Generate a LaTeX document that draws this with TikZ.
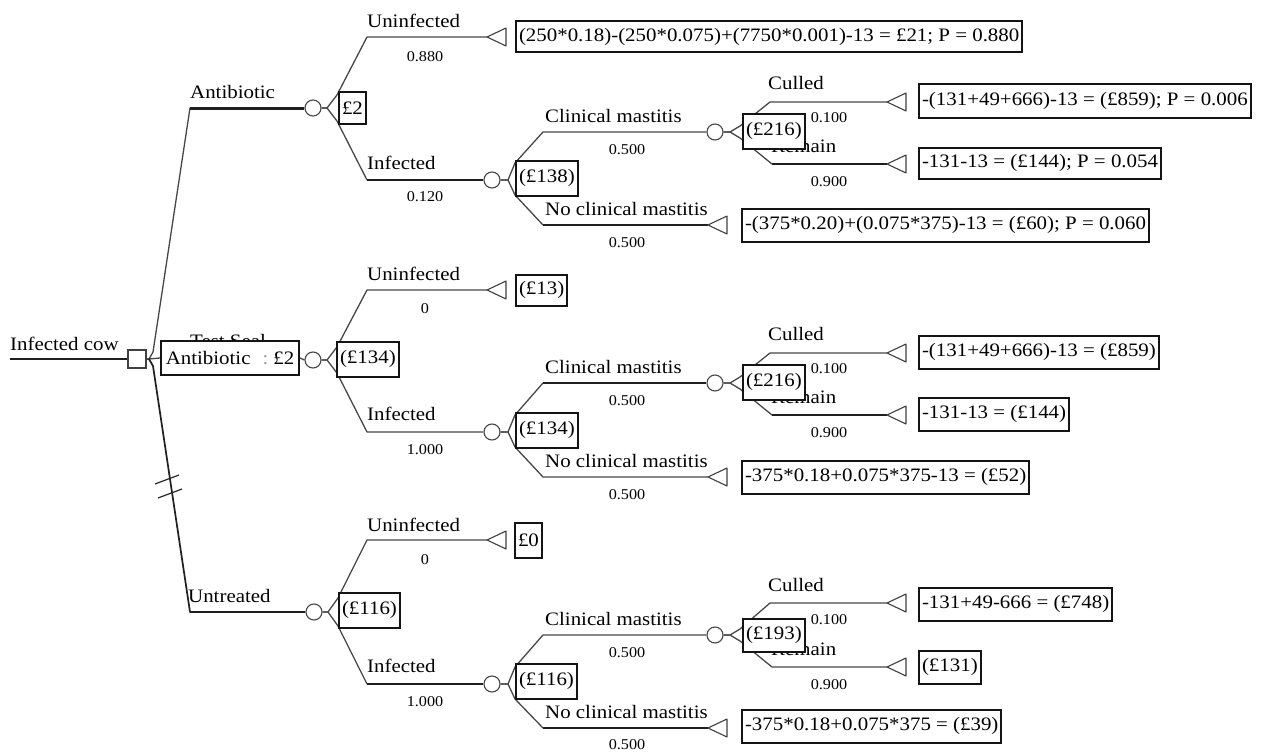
\documentclass[tikz,border=0pt]{standalone}
\usepackage{fontspec}
\setmainfont{Liberation Serif}[FakeStretch=1.1]
\newfontfamily\probserif{Liberation Serif}[FakeStretch=1.08]
\newcommand\lblfont{\fontsize{19}{21}\selectfont}
\newcommand\prbfont{\probserif\fontsize{15}{17}\selectfont}
\usetikzlibrary{backgrounds}
\tikzset{
  edge/.style={draw=black!72, line width=1.3pt, line join=round},
  hot/.style={draw=black!88, line width=2.4pt, line join=round},
  chance/.style={circle, draw=black!72, line width=1.1pt, minimum size=16pt, inner sep=0pt, fill=white},
  decision/.style={rectangle, draw=black!75, line width=1.1pt, minimum size=18pt, inner sep=0pt, fill=white},
  valbox/.style={rectangle, draw=black!92, line width=2pt, fill=white, inner xsep=3pt, inner ysep=0pt,
                 minimum height=33pt, anchor=west, font=\lblfont},
  lab/.style={anchor=base west, inner sep=0pt, font=\lblfont},
  prob/.style={inner sep=0pt, font=\prbfont},
  leaf/.pic={\draw[black!75, line width=1.1pt, fill=white, line join=round] (0,0) -- (19,-9) -- (19,9) -- cycle;}
}
\begin{document}
\begin{tikzpicture}[x=1pt,y=-1pt]
\useasboundingbox (0,0) rectangle (1264,752);

% ---------- root decision ----------
\node[lab] (root) at (10,350) {Infected cow};
\node[decision] (dec) at (137,359) {};
\coordinate (fan) at (149,359);

% ---------- branch: Antibiotic ----------
\node[chance] (cA) at (313,108) {};
\node[valbox, minimum height=32pt] (vA) at (338,108) {£2};
\coordinate (tA1) at (487,37);
\node[valbox, minimum height=31pt] (pA1) at (515,37) {(250*0.18)-(250*0.075)+(7750*0.001)-13 = £21; P = 0.880};
\node[chance] (cA2) at (492,180) {};
\node[valbox, minimum height=35pt] (vA2) at (515,178) {(£138)};
\node[chance] (cA3) at (715,132) {};
\node[valbox, minimum height=35pt] (vA3) at (742,131) {(£216)};
\coordinate (tA3) at (887,102);
\node[valbox] (pA3) at (918,101) {-(131+49+666)-13 = (£859); P = 0.006};
\coordinate (tA4) at (887,164);
\node[valbox, minimum height=31pt] (pA4) at (918,163) {-131-13 = (£144); P = 0.054};
\coordinate (tA2) at (708,225);
\node[valbox] (pA2) at (741,225) {-(375*0.20)+(0.075*375)-13 = (£60); P = 0.060};

% ---------- branch: Test Seal ----------
\node[valbox, minimum width=138pt, minimum height=34pt] (dB) at (160,358)
  {Antibiotic\hspace{12pt}{\color{black!40}:}\hspace{5pt}£2};
\node[chance] (cB) at (313,360) {};
\node[valbox, minimum height=35pt] (vB) at (336,359) {(£134)};
\coordinate (tB1) at (487,290);
\node[valbox, minimum height=31pt] (pB1) at (515,290) {(£13)};
\node[chance] (cB2) at (492,432) {};
\node[valbox, minimum height=35pt] (vB2) at (515,430) {(£134)};
\node[chance] (cB3) at (715,383) {};
\node[valbox, minimum height=35pt] (vB3) at (742,382) {(£216)};
\coordinate (tB3) at (887,353);
\node[valbox] (pB3) at (918,352) {-(131+49+666)-13 = (£859)};
\coordinate (tB4) at (887,415);
\node[valbox] (pB4) at (918,414) {-131-13 = (£144)};
\coordinate (tB2) at (708,477);
\node[valbox] (pB2) at (741,477) {-375*0.18+0.075*375-13 = (£52)};

% ---------- branch: Untreated ----------
\node[chance] (cC) at (314,612) {};
\node[valbox, minimum height=35pt] (vC) at (338,610) {(£116)};
\coordinate (tC1) at (487,540);
\node[valbox, minimum height=35pt] (pC1) at (514,540) {£0};
\node[chance] (cC2) at (492,684) {};
\node[valbox, minimum height=35pt] (vC2) at (515,681) {(£116)};
\node[chance] (cC3) at (715,635) {};
\node[valbox, minimum height=33pt] (vC3) at (742,635) {(£193)};
\coordinate (tC3) at (887,603);
\node[valbox] (pC3) at (918,604) {-131+49-666 = (£748)};
\coordinate (tC4) at (887,667);
\node[valbox] (pC4) at (918,667) {(£131)};
\coordinate (tC2) at (708,728);
\node[valbox] (pC2) at (741,726) {-375*0.18+0.075*375 = (£39)};

% ---------- connectors and labels lying under the boxes ----------
\begin{scope}[on background layer]
  \fill[white] (0,0) rectangle (1264,752);
  % root
  \draw[hot] (root.base west |- dec.west) -- (dec.west);
  \draw[edge] (dec.east) -- (fan);
  \draw[edge] (fan) -- (153,352) -- (190,108) -- (cA.west);
  \draw[hot, line width=3pt] (190,108) -- (cA.west);
  \draw[edge] (fan) -- (dB.west);
  \draw[edge] (dB.east) -- (cB.west);
  \draw[hot, line width=1.7pt] (fan) -- (153,366) -- (190,612) -- (cC.west);
  % cut marks on the untreated branch
  \draw[black!85, line width=1.2pt] (155,484) -- (179,475);
  \draw[black!85, line width=1.2pt] (158,498) -- (182,489);

  % Antibiotic subtree
  \draw[edge] (cA.east) -- (327,108) -- (337,95) -- (367,37) -- (tA1);
  \draw[edge] (cA.east) -- (327,108) -- (337,121) -- (367,180);
  \draw[hot] (367,180) -- (cA2.west);
  \draw[edge] (cA2.east) -- (508,180) -- (515,163) -- (543,132) -- (cA3.west);
  \draw[edge] (cA2.east) -- (508,180) -- (515,195) -- (543,225);
  \draw[hot] (543,225) -- (tA2);
  \draw[edge] (cA3.east) -- (730,132) -- (740,126) -- (770,102) -- (tA3);
  \draw[edge] (cA3.east) -- (730,132) -- (740,138) -- (772,164);
  \draw[hot] (772,164) -- (tA4);
  \node[lab] at (771,152) {Remain};

  % Test Seal subtree
  \node[lab] at (190,347) {Test Seal};
  \draw[edge] (cB.east) -- (327,360) -- (337,347) -- (367,290) -- (tB1);
  \draw[edge] (cB.east) -- (327,360) -- (337,373) -- (367,432) -- (cB2.west);
  \draw[edge] (cB2.east) -- (508,432) -- (515,415) -- (543,383);
  \draw[hot] (543,383) -- (cB3.west);
  \draw[edge] (cB2.east) -- (508,432) -- (515,447) -- (543,477) -- (tB2);
  \draw[edge] (cB3.east) -- (730,383) -- (740,377) -- (770,353) -- (tB3);
  \draw[edge] (cB3.east) -- (730,383) -- (740,389) -- (772,415);
  \draw[hot] (772,415) -- (tB4);
  \node[lab] at (771,403) {Remain};

  % Untreated subtree
  \draw[edge] (cC.east) -- (328,612) -- (338,598) -- (367,540) -- (tC1);
  \draw[edge] (cC.east) -- (328,612) -- (338,626) -- (367,684);
  \draw[hot] (367,684) -- (cC2.west);
  \draw[edge] (cC2.east) -- (508,684) -- (515,667) -- (543,635) -- (cC3.west);
  \draw[edge] (cC2.east) -- (508,684) -- (515,699) -- (543,728);
  \draw[hot] (543,728) -- (tC2);
  \draw[edge] (cC3.east) -- (730,635) -- (740,629) -- (770,603) -- (tC3);
  \draw[edge] (cC3.east) -- (730,635) -- (740,641) -- (772,667) -- (tC4);
  \node[lab] at (771,655) {Remain};
\end{scope}

% terminal markers
\foreach \t in {tA1,tA2,tA3,tA4,tB1,tB2,tB3,tB4,tC1,tC2,tC3,tC4}
  \pic at (\t) {leaf};

% ---------- branch labels ----------
\node[lab] at (190,99) {Antibiotic};
\node[lab] at (367,28) {Uninfected};
\node[prob] at (425,57) {0.880};
\node[lab] at (367,169) {Infected};
\node[prob] at (425,197) {0.120};
\node[lab] at (545,122) {Clinical mastitis};
\node[prob] at (627,150) {0.500};
\node[lab] at (768,89) {Culled};
\node[prob] at (829,118) {0.100};
\node[prob] at (829,182) {0.900};
\node[lab] at (545,215) {No clinical mastitis};
\node[prob] at (627,243) {0.500};

\node[lab] at (367,280) {Uninfected};
\node[prob] at (425,309) {0};
\node[lab] at (367,420) {Infected};
\node[prob] at (425,450) {1.000};
\node[lab] at (545,373) {Clinical mastitis};
\node[prob] at (627,401) {0.500};
\node[lab] at (768,340) {Culled};
\node[prob] at (829,369) {0.100};
\node[prob] at (829,433) {0.900};
\node[lab] at (545,467) {No clinical mastitis};
\node[prob] at (627,495) {0.500};

\node[lab] at (188,602) {Untreated};
\node[lab] at (367,531) {Uninfected};
\node[prob] at (425,560) {0};
\node[lab] at (367,672) {Infected};
\node[prob] at (425,702) {1.000};
\node[lab] at (545,625) {Clinical mastitis};
\node[prob] at (627,653) {0.500};
\node[lab] at (768,591) {Culled};
\node[prob] at (829,620) {0.100};
\node[prob] at (829,685) {0.900};
\node[lab] at (545,718) {No clinical mastitis};
\node[prob] at (627,745) {0.500};
\end{tikzpicture}
\end{document}
